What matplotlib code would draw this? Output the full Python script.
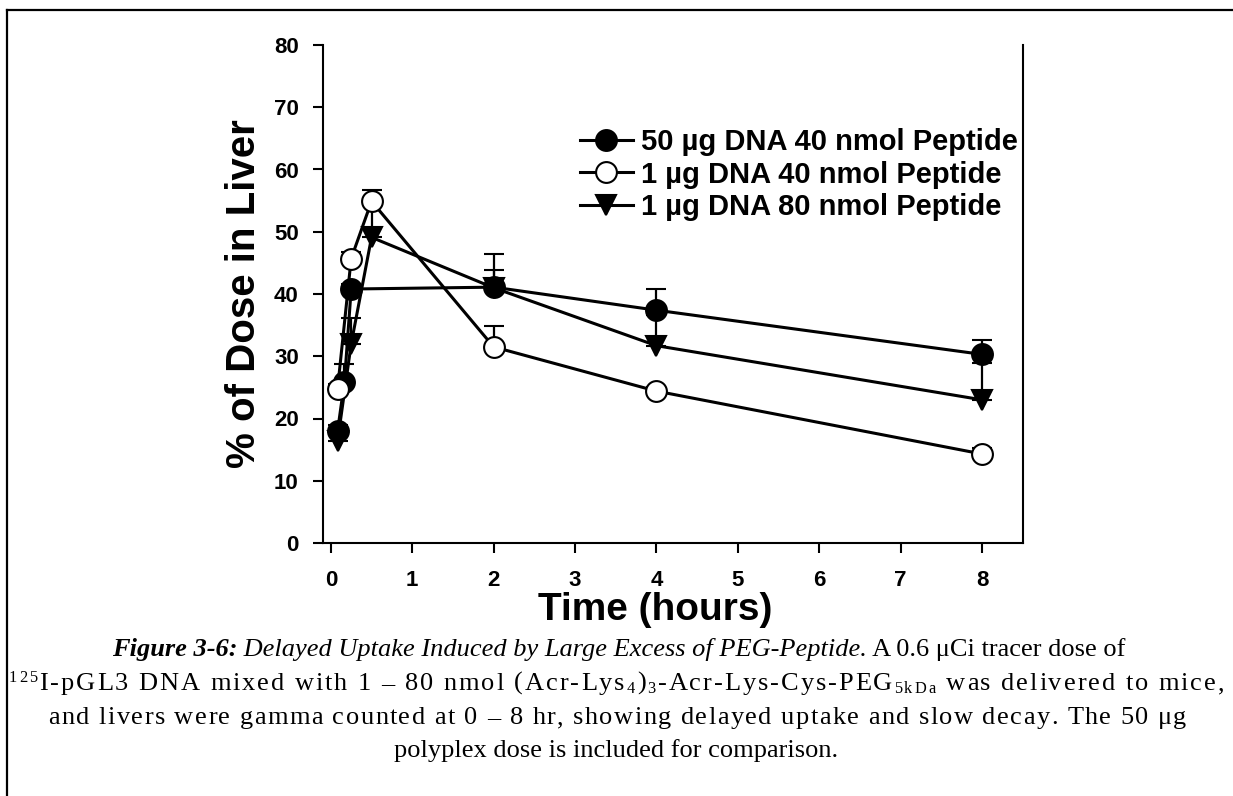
import matplotlib
matplotlib.use("Agg")
import matplotlib.pyplot as plt
from matplotlib.lines import Line2D

# ---------------- data ----------------
t_50_40 = [0.083, 0.167, 0.25, 2, 4, 8]
y_50_40 = [18.0, 25.9, 40.8, 41.1, 37.4, 30.3]
e_50_40 = [1.0, 2.9, 0.8, 5.3, 3.4, 2.3]

t_1_40 = [0.083, 0.25, 0.5, 2, 4, 8]
y_1_40 = [24.8, 45.7, 54.9, 31.5, 24.4, 14.3]
e_1_40 = [0.8, 1.0, 1.8, 3.4, 0.6, 1.0]

t_1_80 = [0.083, 0.25, 0.5, 2, 4, 8]
y_1_80 = [16.4, 32.0, 49.1, 41.0, 31.7, 23.0]
e_1_80 = [2.0, 4.1, 5.2, 2.9, 5.0, 5.9]

labels = ["50 µg DNA 40 nmol Peptide", "1 µg DNA 40 nmol Peptide", "1 µg DNA 80 nmol Peptide"]
x_ticks = [0, 1, 2, 3, 4, 5, 6, 7, 8]
y_ticks = [0, 10, 20, 30, 40, 50, 60, 70, 80]

W, H = 1233, 796
fig = plt.figure(figsize=(W / 100, H / 100), dpi=100)
ax = fig.add_axes([322.7 / W, 1 - 543 / H, 700 / W, 498 / H])

sans = "Liberation Sans"
lw = 2.2
ms = 15
common = dict(color="black", lw=lw, ms=ms, mec="black", mew=1.5,
              elinewidth=1.6, capsize=7.5, capthick=1.6)


def upper(e):
    return [[0] * len(e), e]


ax.errorbar(t_1_80, y_1_80, yerr=upper(e_1_80), marker="v", mfc="black",
            zorder=3, **common)
ax.errorbar(t_50_40, y_50_40, yerr=upper(e_50_40), marker="o", mfc="black",
            zorder=4, **common)
ax.errorbar(t_1_40, y_1_40, yerr=upper(e_1_40), marker="o", mfc="white",
            zorder=5, **common)

ax.set_xlim(-0.1, 8.5)
ax.set_ylim(0, 80)
ax.set_xticks(x_ticks)
ax.set_yticks(y_ticks)
ax.spines["top"].set_visible(False)
for s in ["left", "bottom", "right"]:
    ax.spines[s].set_linewidth(1.5)
ax.tick_params(axis="both", direction="out", length=7.2, width=1.5, labelsize=16)
ax.tick_params(axis="x", pad=12)
ax.tick_params(axis="y", pad=10)
for lab in ax.get_xticklabels() + ax.get_yticklabels():
    lab.set_fontfamily(sans)
    lab.set_fontweight("bold")

ax.set_xlabel("Time (hours)", fontsize=28, fontweight="bold", family=sans)
ax.xaxis.set_label_coords((655 - 322.7) / 700, (543 - 592) / 498)
ax.set_ylabel("% of Dose in Liver", fontsize=29, fontweight="bold", family=sans, labelpad=8)

handles = [
    Line2D([], [], color="black", lw=lw, marker="o", ms=ms, mfc="black", mec="black", mew=1.5),
    Line2D([], [], color="black", lw=lw, marker="o", ms=ms, mfc="white", mec="black", mew=1.5),
    Line2D([], [], color="black", lw=lw, marker="v", ms=ms, mfc="black", mec="black", mew=1.5),
]
fig.legend(handles, labels, loc="upper left",
           bbox_to_anchor=(580 / W, 1 - 128 / H), frameon=False,
           prop=dict(family=sans, weight="bold", size=21),
           handlelength=1.8, handletextpad=0.28, labelspacing=0.16,
           borderpad=0, borderaxespad=0)

# ---------------- border ----------------
fig.add_artist(Line2D([7 / W, 7 / W], [0, 1 - 10 / H], transform=fig.transFigure,
                      color="black", lw=1.6))
fig.add_artist(Line2D([7 / W, 1], [1 - 10 / H, 1 - 10 / H], transform=fig.transFigure,
                      color="black", lw=1.6))

# ---------------- caption ----------------
renderer = fig.canvas.get_renderer()
serif = "Liberation Serif"
FS = 19
base = dict(family=serif, size=FS)
ita = dict(base, style="italic")
bit = dict(base, style="italic", weight="bold")
sml = dict(family=serif, size=FS * 0.62)

_cache = {}


def text_w(s, props):
    key = (s, tuple(sorted(props.items())))
    if key not in _cache:
        t = fig.text(0, 0, s, **props)
        _cache[key] = t.get_window_extent(renderer).width
        t.remove()
    return _cache[key]


def piece_w(s, props):
    return text_w("|" + s + "|", props) - text_w("||", props)


def draw_line(cx, base_y, pieces, target=None):
    if target is None:
        widths = [piece_w(s, p) for s, p, d in pieces]
        x = cx - sum(widths) / 2
        for (s, p, d), w in zip(pieces, widths):
            fig.text(x / W, 1 - (base_y - d) / H, s, ha="left", va="baseline", **p)
            x += w
        return
    toks = []
    for s, p, d in pieces:
        for ch in s:
            toks.append((ch, p, d, piece_w(ch, p)))
    natural = sum(t[3] for t in toks)
    gaps = len(toks) - 1
    extra = (target - natural) / gaps
    x = cx - target / 2
    for ch, p, d, w in toks:
        if ch != " ":
            fig.text(x / W, 1 - (base_y - d) / H, ch, ha="left", va="baseline", **p)
        x += w + extra


draw_line(618.5, 656, [("Figure 3-6:", bit, 0),
                       (" Delayed Uptake Induced by Large Excess of PEG-Peptide.", ita, 0),
                       (" A 0.6 μCi tracer dose of", base, 0)])
draw_line(616.5, 690, [("125", sml, 8),
                       ("I-pGL3 DNA mixed with 1 – 80 nmol (Acr-Lys", base, 0),
                       ("4", sml, -3),
                       (")", base, 0),
                       ("3", sml, -3),
                       ("-Acr-Lys-Cys-PEG", base, 0),
                       ("5kDa", sml, -3),
                       (" was delivered to mice,", base, 0)], target=1215)
draw_line(617.5, 724, [("and livers were gamma counted at 0 – 8 hr, showing delayed uptake and slow decay. The 50 μg", base, 0)],
          target=1138)
draw_line(616.5, 757, [("polyplex dose is included for comparison.", base, 0)])

fig.savefig("out.png", dpi=100, facecolor="white")
